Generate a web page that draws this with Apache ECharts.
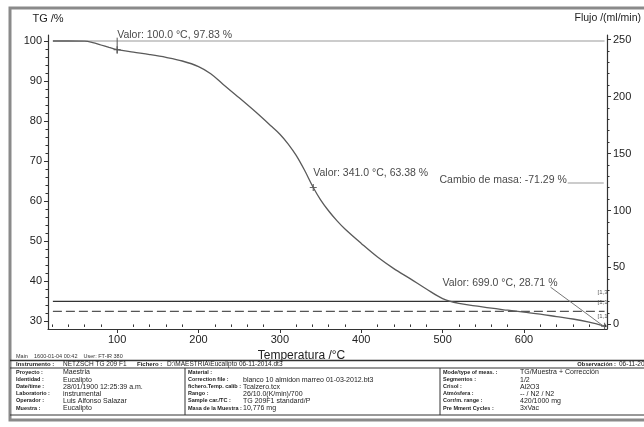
<!DOCTYPE html>
<html>
<head>
<meta charset="utf-8">
<script src="https://cdn.jsdelivr.net/npm/echarts@6/dist/echarts.min.js"></script>
<style>
  html, body { margin: 0; padding: 0; background: #fff; }
  #main { width: 644px; height: 427px; }
</style>
</head>
<body>
<div id="main"></div>
<script>
// curva TG (temperatura °C -> masa %)
var temps = [21, 40, 60, 70, 80, 90, 100, 120, 140, 160, 180, 200, 215, 230, 250, 270, 290, 300, 310, 320, 330, 341, 350, 360, 370, 380, 400, 420, 440, 460, 480, 500, 520, 540, 560, 580, 600, 620, 640, 660, 680, 699];
var tgValues = [100, 100, 99.95, 99.6, 99.0, 98.4, 97.83, 97.2, 96.6, 95.9, 95.0, 93.6, 91.8, 89.2, 85.8, 82.3, 78.6, 76.7, 74.3, 71.4, 67.8, 63.38, 60.3, 57.5, 55.1, 53.0, 49.4, 46.0, 43.1, 40.6, 38.0, 35.6, 34.4, 33.8, 33.2, 32.7, 32.2, 31.7, 31.1, 30.5, 29.7, 28.71];
// flujos (ml/min)
var flowTemps = [21, 699];
var flowSolid = [20.2, 20.2];
var flowDashed = [11.4, 11.4];
var refLine = [100, 100];   // linea 100 %
// ticks
var xTicks = [100, 200, 300, 400, 500, 600];
var xMinor = [20, 40, 60, 80, 120, 140, 160, 180, 220, 240, 260, 280, 320, 340, 360, 380, 420, 440, 460, 480, 520, 540, 560, 580, 620, 640, 660, 680, 700];
var tgTicks = [30, 40, 50, 60, 70, 80, 90, 100];
var tgMinor = [32, 34, 36, 38, 42, 44, 46, 48, 52, 54, 56, 58, 62, 64, 66, 68, 72, 74, 76, 78, 82, 84, 86, 88, 92, 94, 96, 98];
var flowTicks = [0, 50, 100, 150, 200, 250];
var flowMinor = [10, 20, 30, 40, 60, 70, 80, 90, 110, 120, 130, 140, 160, 170, 180, 190, 210, 220, 230, 240];
// puntos marcados
var markTemps = [100, 341, 699];
var markValues = [97.83, 63.38, 28.71];
var massChange = -71.29;

// tabla de informacion
var rowMain = 'Main    1600-01-04 00:42    User: FT-IR 380';
var leftLabels = ['Proyecto :', 'Identidad :', 'Date/time :', 'Laboratorio :', 'Operador :', 'Muestra :'];
var leftValues = ['Maestria', 'Eucalipto', '28/01/1900 12:25:39 a.m.', 'instrumental', 'Luis Alfonso Salazar', 'Eucalipto'];
var midLabels = ['Material :', 'Correction file :', 'fichero.Temp. calib :', 'Rango :', 'Sample car./TC :', 'Masa de la Muestra :'];
var midValues = ['', 'blanco 10 almidon marreo 01-03-2012.bt3', 'Tcalzero.tcx', '26/10.0(K/min)/700', 'TG 209F1 standard/P', '10,776 mg'];
var rightLabels = ['Mode/type of meas. :', 'Segmentos :', 'Crisol :', 'Atmósfera :', 'Corr/m. range :', 'Pre Mment Cycles :'];
var rightValues = ['TG/Muestra + Corrección', '1/2', 'Al2O3', '-- / N2 / N2', '420/1000 mg', '3xVac'];

var FONT = 'Liberation Sans';
var chart = echarts.init(document.getElementById('main'));

function pairs(xs, ys) {
  var out = [];
  for (var i = 0; i < xs.length; i++) out.push([xs[i], ys[i]]);
  return out;
}

var xMin = 15, xMax = 702;

chart.setOption({
  backgroundColor: '#fff',
  animation: false,
  textStyle: { fontFamily: FONT },
  grid: { left: 48, right: 37, top: 35, bottom: 98 },
  xAxis: [{
    type: 'value', min: xMin, max: xMax,
    name: 'Temperatura /°C', nameLocation: 'middle', nameGap: 15,
    nameTextStyle: { fontSize: 12, color: '#222', fontFamily: FONT, padding: [0, 52, 0, 0] },
    axisLine: { onZero: false, lineStyle: { color: '#333', width: 1.2 } },
    axisTick: { customValues: xTicks, length: 4, lineStyle: { color: '#333' } },
    axisLabel: { customValues: xTicks, fontSize: 11, color: '#222', margin: 5 },
    splitLine: { show: false }
  }, {
    type: 'value', min: xMin, max: xMax, position: 'bottom',
    axisLine: { show: false },
    axisTick: { customValues: xMinor, length: 2.5, lineStyle: { color: '#333' } },
    axisLabel: { show: false },
    splitLine: { show: false }
  }],
  yAxis: [{
    type: 'value', min: 28, max: 101.5, position: 'left',
    name: 'TG /%', nameGap: 11, nameLocation: 'end',
    nameTextStyle: { fontSize: 11, color: '#222', align: 'center' },
    axisLine: { show: true, onZero: false, lineStyle: { color: '#333', width: 1.2 } },
    axisTick: { customValues: tgTicks, length: 4, lineStyle: { color: '#333' } },
    axisLabel: { customValues: tgTicks, fontSize: 11, color: '#222', margin: 6 },
    splitLine: { show: false }
  }, {
    type: 'value', min: -4, max: 254, position: 'right',
    name: 'Flujo /(ml/min)', nameGap: 11, nameLocation: 'end',
    nameTextStyle: { fontSize: 10.5, color: '#222', align: 'right', padding: [0, -34, 0, 0] },
    axisLine: { show: true, onZero: false, lineStyle: { color: '#333', width: 1.2 } },
    axisTick: { customValues: flowTicks, length: 4, lineStyle: { color: '#333' } },
    axisLabel: { customValues: flowTicks, fontSize: 11, color: '#222', margin: 6 },
    splitLine: { show: false }
  }, {
    type: 'value', min: 28, max: 101.5, position: 'left',
    axisLine: { show: false },
    axisTick: { customValues: tgMinor, length: 2.5, lineStyle: { color: '#333' } },
    axisLabel: { show: false }, splitLine: { show: false }
  }, {
    type: 'value', min: -4, max: 254, position: 'right',
    axisLine: { show: false },
    axisTick: { customValues: flowMinor, length: 2.5, lineStyle: { color: '#333' } },
    axisLabel: { show: false }, splitLine: { show: false }
  }],
  series: [{
    name: 'ref', type: 'line', yAxisIndex: 0, data: pairs(flowTemps, refLine),
    showSymbol: false, lineStyle: { color: '#9a9a9a', width: 1.2 }
  }, {
    name: 'flujo1', type: 'line', yAxisIndex: 1, data: pairs(flowTemps, flowSolid),
    showSymbol: false, lineStyle: { color: '#333', width: 1.3 }
  }, {
    name: 'flujo2', type: 'line', yAxisIndex: 1, data: pairs(flowTemps, flowDashed),
    showSymbol: false, lineStyle: { color: '#555', width: 1.3, type: [9, 4] }
  }, {
    name: 'TG', type: 'line', yAxisIndex: 0, data: pairs(temps, tgValues),
    smooth: 0.35, showSymbol: false, lineStyle: { color: '#5a5a5a', width: 1.3 }
  }, {
    name: 'marcas', type: 'scatter', yAxisIndex: 0, data: pairs(markTemps, markValues),
    symbol: 'path://M0,5L10,5M5,0L5,10', symbolSize: 7,
    itemStyle: { color: 'none', borderColor: '#444', borderWidth: 1.2 }
  }]
});

// anotaciones en coordenadas de datos
function px(t, v) { return chart.convertToPixel({ xAxisIndex: 0, yAxisIndex: 0 }, [t, v]); }
var g = [];
var lineCol = '#666', txtCol = '#4a4a4a';
function txt(x, y, s, opts) {
  var st = { text: s, fontFamily: FONT, fontSize: 10.5, fill: txtCol, textVerticalAlign: 'middle' };
  for (var k in (opts || {})) st[k] = opts[k];
  g.push({ type: 'text', x: x, y: y, style: st, z: 10 });
}
function seg(x1, y1, x2, y2, col, w) {
  g.push({ type: 'line', shape: { x1: x1, y1: y1, x2: x2, y2: y2 }, style: { stroke: col || lineCol, lineWidth: w || 1 }, z: 10 });
}

var p1 = px(markTemps[0], markValues[0]);
seg(p1[0], p1[1] + 4, p1[0], p1[1] - 12, '#555', 1);
txt(p1[0], p1[1] - 15, 'Valor: ' + markTemps[0].toFixed(1) + ' °C, ' + markValues[0].toFixed(2) + ' %');
var p2 = px(markTemps[1], markValues[1]);
txt(p2[0], p2[1] - 14, 'Valor: ' + markTemps[1].toFixed(1) + ' °C, ' + markValues[1].toFixed(2) + ' %');
var p3 = px(markTemps[2], markValues[2]);
txt(p3[0] - 162, p3[1] - 43, 'Valor: ' + markTemps[2].toFixed(1) + ' °C, ' + markValues[2].toFixed(2) + ' %');
seg(p3[0] - 54, p3[1] - 39, p3[0] - 1, p3[1], '#777', 1);

// cambio de masa
var top = px(markTemps[2] - 1, 92.5), bot = px(markTemps[2] - 1, 29.5);
seg(top[0] - 1, top[1], bot[0] - 1, bot[1], '#999', 1);
seg(top[0] + 1, top[1], bot[0] + 1, bot[1], '#999', 1);
g.push({ type: 'polygon', shape: { points: [[top[0], top[1] - 4], [top[0] - 2, top[1] + 3], [top[0] + 2, top[1] + 3]] }, style: { fill: '#999' }, z: 10 });
var cm = px(markTemps[2] - 1, 64.5);
seg(cm[0] - 36, cm[1], cm[0], cm[1], '#999', 1);
txt(cm[0] - 37, cm[1] - 3, 'Cambio de masa: ' + massChange.toFixed(2) + ' %', { fontSize: 10.5, textAlign: 'right' });

// etiquetas de segmento
var fs1 = chart.convertToPixel({ xAxisIndex: 0, yAxisIndex: 1 }, [flowTemps[1], flowSolid[0]]);
txt(fs1[0] - 7, fs1[1] - 9, '[1,3', { fontSize: 6, fill: '#555' });
txt(fs1[0] - 7, fs1[1] + 1, '[1,1', { fontSize: 6, fill: '#555' });
txt(fs1[0] - 7, fs1[1] + 15, '[1,1', { fontSize: 6, fill: '#555' });

// marco exterior
g.push({ type: 'polyline', shape: { points: [[644, 8], [10, 8], [10, 420], [644, 420]] }, style: { stroke: '#8a8a8a', lineWidth: 3, fill: 'none' }, z: 1 });

// tabla inferior
var lf = 5.5, vf = 7;
txt(16, 356, rowMain, { fontSize: 5.5, fill: '#333' });
seg(10, 360.5, 644, 360.5, '#333', 1.5);
seg(10, 368, 644, 368, '#333', 1.2);
txt(16, 364.5, 'Instrumento :', { fontSize: 6, fontWeight: 'bold', fill: '#222' });
txt(63, 364.5, 'NETZSCH TG 209 F1', { fontSize: 6.5, fill: '#222' });
txt(137, 364.5, 'Fichero :', { fontSize: 6, fontWeight: 'bold', fill: '#222' });
txt(167, 364.5, 'D:\\MAESTRIA\\Eucalipto 06-11-2014.dt3', { fontSize: 6.5, fill: '#222' });
txt(619, 364.5, '06-11-2014', { fontSize: 6.5, fill: '#222' });
txt(616, 364.5, 'Observación :', { fontSize: 5.8, fontWeight: 'bold', fill: '#222', textAlign: 'right' });
seg(185, 368, 185, 415, '#333', 1);
seg(440, 368, 440, 415, '#333', 1);
seg(10, 415, 644, 415, '#333', 1);
for (var i = 0; i < leftLabels.length; i++) {
  var ry = 372.5 + i * 7.1;
  txt(16, ry, leftLabels[i], { fontSize: lf, fontWeight: 'bold', fill: '#222' });
  txt(63, ry, leftValues[i], { fontSize: vf, fill: '#222' });
  txt(188, ry, midLabels[i], { fontSize: lf, fontWeight: 'bold', fill: '#222' });
  txt(243, ry, midValues[i], { fontSize: vf, fill: '#222' });
  txt(443, ry, rightLabels[i], { fontSize: lf, fontWeight: 'bold', fill: '#222' });
  txt(520, ry, rightValues[i], { fontSize: vf, fill: '#222' });
}

chart.setOption({ graphic: g });
</script>
</body>
</html>
